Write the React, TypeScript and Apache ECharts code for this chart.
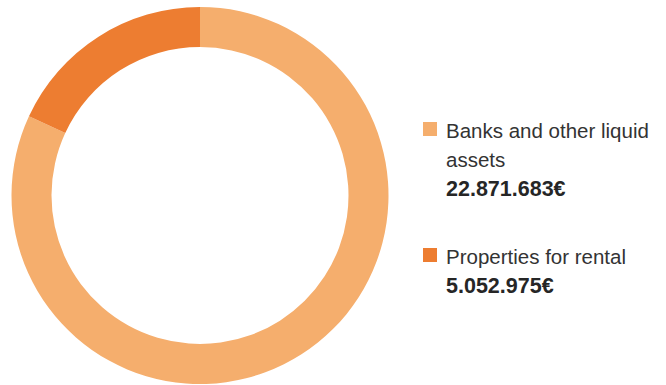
import React, { useEffect, useRef } from "react";
import * as echarts from "echarts";

const categories = ["Banks and other liquid assets", "Properties for rental"];
const legendLines = [["Banks and other liquid", "assets"], ["Properties for rental"]];
const values = [22871683, 5052975];
const valueLabels = ["22.871.683€", "5.052.975€"];
const colors = ["#F5AE6D", "#ED7D31"];

export default function App() {
  const ref = useRef<HTMLDivElement>(null);
  useEffect(() => {
    document.body.style.margin = "0";
    const chart = echarts.init(ref.current!, null, { renderer: "svg" });
    const graphic: any[] = [];
    const blocks = [
      { sq: 122, lines: [130, 159], val: 189 },
      { sq: 248, lines: [256], val: 286 },
    ];
    categories.forEach((c, i) => {
      const b = blocks[i];
      graphic.push({
        type: "rect",
        shape: { x: 423, y: b.sq, width: 14, height: 14 },
        style: { fill: colors[i] },
      });
      legendLines[i].forEach((t, j) => {
        graphic.push({
          type: "text",
          x: 446,
          y: b.lines[j],
          style: {
            text: t,
            fill: "#333333",
            font: "20.5px 'Liberation Sans', Arial, sans-serif",
            verticalAlign: "middle",
            align: "left",
          },
        });
      });
      graphic.push({
        type: "text",
        x: 446,
        y: b.val,
        style: {
          text: valueLabels[i],
          fill: "#262626",
          font: "bold 21.5px 'Liberation Sans', Arial, sans-serif",
          verticalAlign: "middle",
          align: "left",
        },
      });
    });
    chart.setOption({
      animation: false,
      graphic,
      series: [
        {
          type: "pie",
          center: [200, 195.5],
          radius: [148.5, 188.5],
          startAngle: 90,
          clockwise: true,
          label: { show: false },
          labelLine: { show: false },
          emphasis: { disabled: true },
          itemStyle: { borderWidth: 0 },
          data: categories.map((c, i) => ({ name: c, value: values[i], itemStyle: { color: colors[i] } })),
        },
      ],
    });
    return () => chart.dispose();
  }, []);
  return <div ref={ref} style={{ width: 666, height: 385 }} />;
}
